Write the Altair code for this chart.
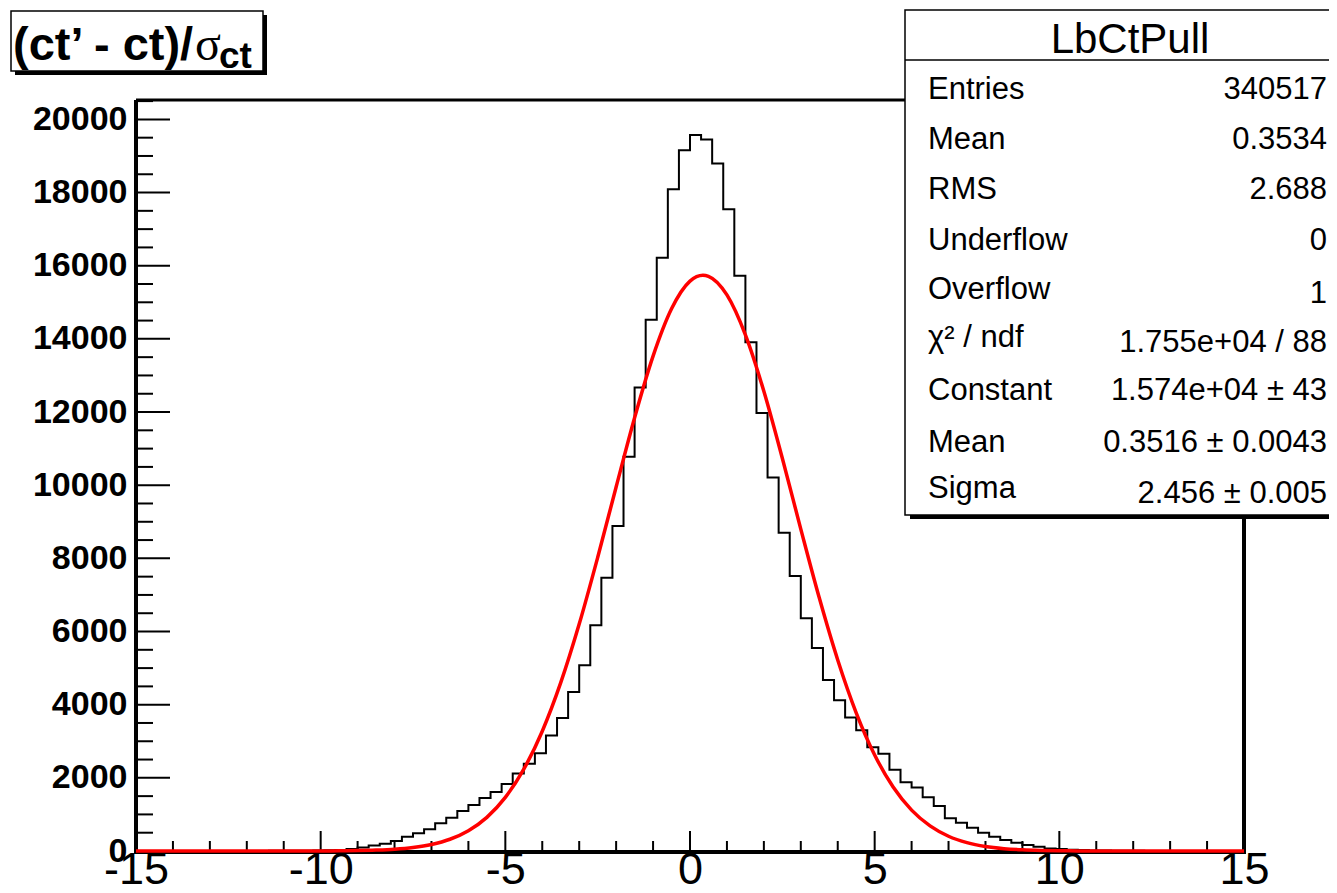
import altair as alt
import pandas as pd

# ---------------- data ----------------
bin_low = -15.0
bin_width = 0.3
counts = [0, 0, 0, 0, 0, 0,
          1, 1, 1, 2, 2, 3, 4, 5, 7, 10, 14, 18,
          27, 55, 99, 153, 200, 274, 392, 482, 592, 756,
          912, 1096, 1260, 1452, 1616, 1835, 2118, 2384, 2674, 3159,
          3633, 4345, 5077, 6173, 7469, 8885, 10775, 12674, 14521, 16219,
          18090, 19159, 19570, 19452, 18795, 17542, 15726, 13907, 11973, 10208,
          8701, 7515, 6364, 5551, 4674, 4118, 3652, 3304, 2838, 2657,
          2219, 1879, 1734, 1468, 1233, 893, 775, 638, 501, 392,
          301, 227, 164, 118, 71, 55, 36,
          25, 17, 12, 8, 6, 4, 3, 2, 2, 1, 1, 1,
          0, 0, 0]

fit_x = [-15, -11, -10, -9.5, -9, -8.5, -8, -7.5, -7, -6.5,
         -6, -5.5, -5, -4.5, -4, -3.5, -3, -2.5, -2, -1.5,
         -1, -0.5, 0, 0.35, 0.5, 1, 1.5, 2, 2.5, 3,
         3.5, 4, 4.5, 5, 5.5, 6, 6.5, 7, 7.5, 8,
         8.5, 9, 9.5, 10, 10.5, 11, 12, 15]
fit_y = [0, 0, 2, 5, 11, 24, 48, 95, 178, 321,
         555, 920, 1466, 2238, 3275, 4601, 6203, 8023, 9952, 11846,
         13529, 14822, 15579, 15740, 15711, 15202, 14110, 12567, 10737, 8800,
         6921, 5223, 3779, 2625, 1749, 1118, 686, 404, 228, 123,
         64, 32, 15, 7, 3, 1, 0, 0]

x_labels = [-15, -10, -5, 0, 5, 10, 15]
x_minor = [v for v in range(-15, 16) if v % 5 != 0]
y_labels = list(range(0, 20001, 2000))
y_minor = [v for v in range(0, 20501, 500) if v % 2000 != 0]

stat_names = ["Entries", "Mean", "RMS", "Underflow", "Overflow",
              "χ² / ndf", "Constant", "Mean", "Sigma"]
stat_values = ["340517", "0.3534", "2.688", "0", "1",
               "1.755e+04 / 88", "1.574e+04 ± 43", "0.3516 ± 0.0043",
               "2.456 ± 0.005"]
stats_title = "LbCtPull"
hist_title = "(ct’ - ct)/"
hist_title_sym = "σ"
hist_title_sub = "ct"

# ---------------- layout ----------------
W, H = 1108, 751
FONT = "Liberation Sans"
Y_MAX = 20530

xs = alt.Scale(domain=[-15, 15], nice=False, zero=False)
ys = alt.Scale(domain=[0, Y_MAX], nice=False, zero=False)

x_axis = alt.Axis(values=x_labels, title=None, ticks=False, domain=False, grid=False,
                  labelFont=FONT, labelFontSize=45, labelColor="black",
                  labelBaseline="alphabetic", labelPadding=32,
                  labelFlush=False, labelOverlap=False,
                  labelExpr="datum.value < 0 ? '-' + abs(datum.value) : '' + datum.value")
y_axis = alt.Axis(values=y_labels, title=None, ticks=False, domain=False, grid=False,
                  labelFont=FONT, labelFontSize=34, labelFontWeight="bold",
                  labelColor="black", labelAlign="right", labelBaseline="middle",
                  labelPadding=9, labelOverlap=False, labelFlush=False,
                  labelExpr="'' + datum.value")

one = pd.DataFrame({"a": [0]})

hist_x = [bin_low + i * bin_width for i in range(len(counts))] + [bin_low + len(counts) * bin_width]
hist_df = pd.DataFrame({"x": hist_x, "y": counts + [counts[-1]]})
fit_df = pd.DataFrame({"x": fit_x, "y": fit_y})


def X(f):
    return alt.X(f, scale=xs, axis=x_axis)


def Y(f):
    return alt.Y(f, scale=ys, axis=y_axis)


# frame lines
frame_left = alt.Chart(one).mark_rule(color="black", strokeWidth=4).encode(
    x=alt.value(0), y=alt.value(0), y2=alt.value(H + 2))
frame_right = alt.Chart(one).mark_rule(color="black", strokeWidth=4).encode(
    x=alt.value(W), y=alt.value(0), y2=alt.value(H + 2))
frame_top = alt.Chart(one).mark_rule(color="black", strokeWidth=3).encode(
    x=alt.value(0), x2=alt.value(W), y=alt.value(0))
frame_bottom = alt.Chart(one).mark_rule(color="black", strokeWidth=4).encode(
    x=alt.value(-2), x2=alt.value(W + 2), y=alt.value(H + 1))

xt_major = alt.Chart(pd.DataFrame({"x": x_labels})).mark_rule(color="black", strokeWidth=2).encode(
    x=X("x:Q"), y=alt.value(H), y2=alt.value(H - 20))
xt_minor = alt.Chart(pd.DataFrame({"x": x_minor})).mark_rule(color="black", strokeWidth=2).encode(
    x=X("x:Q"), y=alt.value(H), y2=alt.value(H - 10))
yt_major = alt.Chart(pd.DataFrame({"y": y_labels})).mark_rule(color="black", strokeWidth=2).encode(
    y=Y("y:Q"), x=alt.value(0), x2=alt.value(34))
yt_minor = alt.Chart(pd.DataFrame({"y": y_minor})).mark_rule(color="black", strokeWidth=2).encode(
    y=Y("y:Q"), x=alt.value(0), x2=alt.value(17))

hist = alt.Chart(hist_df).mark_line(color="black", strokeWidth=2, interpolate="step-after").encode(
    x=X("x:Q"), y=Y("y:Q"))
fit = alt.Chart(fit_df).mark_line(color="#ff0000", strokeWidth=3.5, interpolate="monotone").encode(
    x=X("x:Q"), y=Y("y:Q"))

# title box (top-left)
tb_shadow = alt.Chart(one).mark_rect(color="black").encode(
    x=alt.value(-121), x2=alt.value(131), y=alt.value(-85), y2=alt.value(-25))
tb_box = alt.Chart(one).mark_rect(fill="white", stroke="black", strokeWidth=1.5).encode(
    x=alt.value(-125), x2=alt.value(127), y=alt.value(-89), y2=alt.value(-29))
tb_t1 = alt.Chart(one).mark_text(text=hist_title, font=FONT, fontSize=47, fontWeight="bold",
                                 align="left", baseline="alphabetic", color="black").encode(
    x=alt.value(-123), y=alt.value(-40))
tb_t2 = alt.Chart(one).mark_text(text=hist_title_sym, font="Liberation Serif", fontSize=48,
                                 align="left", baseline="alphabetic", color="black").encode(
    x=alt.value(59), y=alt.value(-40))
tb_t3 = alt.Chart(one).mark_text(text=hist_title_sub, font=FONT, fontSize=37, fontWeight="bold",
                                 align="left", baseline="alphabetic", color="black").encode(
    x=alt.value(83), y=alt.value(-32))

# stats box (top-right)
SB_L, SB_R, SB_T, SB_B = 769, 1215, -90, 415
sb_shadow = alt.Chart(one).mark_rect(color="black").encode(
    x=alt.value(SB_L + 5), x2=alt.value(SB_R), y=alt.value(SB_T + 5), y2=alt.value(SB_B + 4))
sb_box = alt.Chart(one).mark_rect(fill="white", stroke="black", strokeWidth=1.5).encode(
    x=alt.value(SB_L), x2=alt.value(SB_R + 10), y=alt.value(SB_T), y2=alt.value(SB_B))
sb_sep = alt.Chart(one).mark_rule(color="black", strokeWidth=1.5).encode(
    x=alt.value(SB_L), x2=alt.value(SB_R + 10), y=alt.value(-40))
sb_title = alt.Chart(one).mark_text(text=stats_title, font=FONT, fontSize=42, align="center",
                                    baseline="alphabetic", color="black").encode(
    x=alt.value(994), y=alt.value(-47))

label_base = [99, 149, 199, 250, 299, 347, 400, 452, 498]
value_base = [99, 149, 199, 250, 303, 352, 400, 452, 503]
stats_df = pd.DataFrame({"name": stat_names, "val": stat_values,
                         "ly": [v - 100 for v in label_base],
                         "vy": [v - 100 for v in value_base]})
sb_names = alt.Chart(stats_df).mark_text(font=FONT, fontSize=31, align="left",
                                         baseline="alphabetic", color="black").encode(
    x=alt.value(792), y=alt.Y("ly:Q", scale=None), text="name:N")
sb_vals = alt.Chart(stats_df).mark_text(font=FONT, fontSize=31, align="right",
                                        baseline="alphabetic", color="black").encode(
    x=alt.value(1191), y=alt.Y("vy:Q", scale=None), text="val:N")

chart = alt.layer(
    frame_left, frame_right, frame_top,
    xt_major, xt_minor, yt_major, yt_minor,
    hist, frame_bottom, fit,
    tb_shadow, tb_box, tb_t1, tb_t2, tb_t3,
    sb_shadow, sb_box, sb_sep, sb_title, sb_names, sb_vals,
).properties(
    width=W, height=H,
    padding={"left": 128, "top": 92, "right": 85, "bottom": 34},
    autosize=alt.AutoSizeParams(type="none"),
    background="white",
).configure_view(strokeWidth=0)

chart.save("out.html", embed_options={"renderer": "svg", "actions": False})
